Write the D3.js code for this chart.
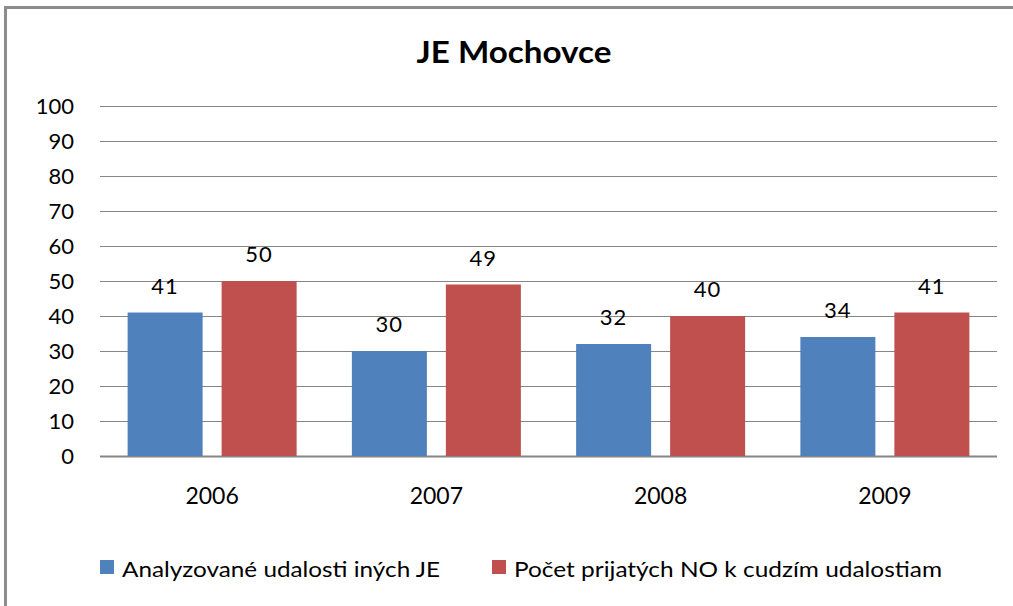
<!DOCTYPE html>
<html>
<head>
<meta charset="utf-8">
<script src="https://cdn.jsdelivr.net/npm/d3@7"></script>
<style>
  body { margin: 0; background: #fff; }
  svg text { font-family: Lato, "Open Sans", sans-serif; fill: #000; }
</style>
</head>
<body>
<svg id="chart" width="1013" height="606"></svg>
<script>
// data
var years = ['2006', '2007', '2008', '2009'];
var seriesNames = ['Analyzované udalosti iných JE', 'Počet prijatých NO k cudzím udalostiam'];
var analyzed = [41, 30, 32, 34];
var accepted = [50, 49, 40, 41];
var yTicks = [0, 10, 20, 30, 40, 50, 60, 70, 80, 90, 100];
var colors = ['#4f81bd', '#c0504d'];

var svg = d3.select('#chart');

// frame
svg.append('rect')
    .attr('x', 5.5).attr('y', 7.5)
    .attr('width', 1100).attr('height', 700)
    .attr('fill', 'none')
    .attr('stroke', '#8c8c8c')
    .attr('stroke-width', 3);

svg.append('text')
    .attr('x', 514).attr('y', 63)
    .attr('text-anchor', 'middle')
    .attr('font-size', 31)
    .attr('font-weight', 'bold')
    .attr('textLength', 195)
    .attr('lengthAdjust', 'spacingAndGlyphs')
    .text('JE Mochovce');

var x = d3.scaleBand().domain(years).range([100, 997]);
var y = d3.scaleLinear().domain([0, 100]).range([456, 106]);
var inner = d3.scaleBand().domain([0, 1]).range([0, 169]).paddingInner(19 / 94);

// gridlines
svg.append('g').selectAll('line').data(yTicks)
    .enter().append('line')
    .attr('x1', 100).attr('x2', 997)
    .attr('y1', function(d) { return Math.round(y(d)) + 0.5; })
    .attr('y2', function(d) { return Math.round(y(d)) + 0.5; })
    .attr('stroke', '#868686')
    .attr('stroke-width', function(d) { return d === 0 ? 2 : 1; });

// y axis labels
var yAxis = d3.axisLeft(y).tickValues(yTicks).tickSize(0).tickPadding(0);
var ya = svg.append('g').attr('transform', 'translate(74,0)').call(yAxis);
ya.select('.domain').remove();
ya.selectAll('text')
    .attr('font-size', 22)
    .attr('font-family', 'Lato, sans-serif')
    .attr('fill', '#000');

// x axis labels
var xAxis = d3.axisBottom(x).tickSize(0).tickPadding(0);
var xa = svg.append('g').attr('transform', 'translate(0,488)').call(xAxis);
xa.select('.domain').remove();
xa.selectAll('text')
    .attr('font-size', 23)
    .attr('font-family', 'Lato, sans-serif')
    .attr('fill', '#000');

//bars
var groups = svg.selectAll('.year').data(years)
    .enter().append('g')
    .attr('class', 'year')
    .attr('transform', function(d) {
        return 'translate(' + (x(d) + x.bandwidth() / 2 - 84.5) + ',0)';
    });

[analyzed, accepted].forEach(function(values, s) {
    groups.append('rect')
        .attr('x', inner(s))
        .attr('y', function(d, i) { return y(values[i]); })
        .attr('width', inner.bandwidth())
        .attr('height', function(d, i) { return y(0) - y(values[i]); })
        .attr('fill', colors[s]);
    groups.append('text')
        .attr('x', inner(s) + inner.bandwidth() / 2)
        .attr('y', function(d, i) { return y(values[i]) - 19; })
        .attr('text-anchor', 'middle')
        .attr('font-size', 22)
        .attr('letter-spacing', 1)
        .text(function(d, i) { return values[i]; });
});

// legend
var legendX = [100, 492];
var legendW = [318, 428];
var legend = svg.selectAll('.legend').data(seriesNames)
    .enter().append('g')
    .attr('class', 'legend')
    .attr('transform', function(d, i) { return 'translate(' + legendX[i] + ',560)'; });
legend.append('rect')
    .attr('width', 14).attr('height', 14)
    .attr('fill', function(d, i) { return colors[i]; });
legend.append('text')
    .attr('x', 22).attr('y', 17)
    .attr('font-size', 22)
    .attr('textLength', function(d, i) { return legendW[i]; })
    .attr('lengthAdjust', 'spacingAndGlyphs')
    .text(function(d) { return d; });
</script>
</body>
</html>
